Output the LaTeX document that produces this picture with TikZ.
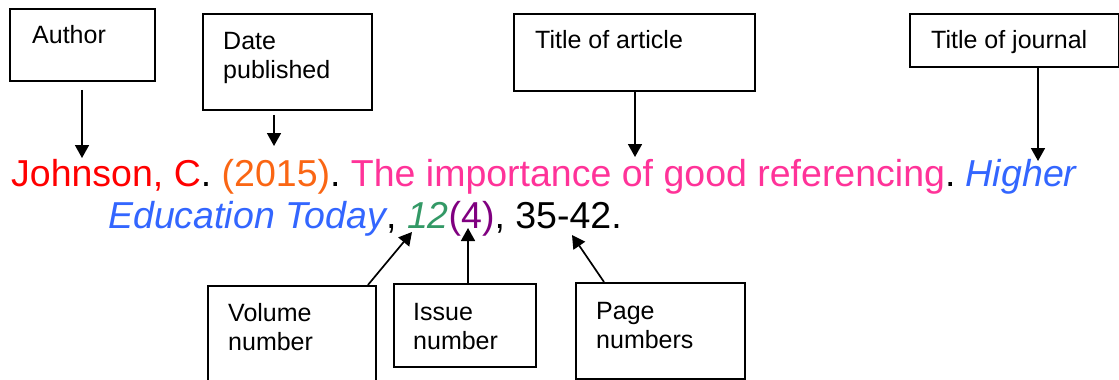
\documentclass[tikz,border=0pt]{standalone}
\usepackage{fontspec}
\setmainfont{Liberation Sans}
\usetikzlibrary{arrows.meta}
\definecolor{cred}{RGB}{255,0,0}
\definecolor{corange}{RGB}{250,102,20}
\definecolor{cpink}{RGB}{255,51,153}
\definecolor{cblue}{RGB}{51,102,255}
\definecolor{cgreen}{RGB}{51,153,102}
\definecolor{cpurple}{RGB}{128,0,128}
\frenchspacing
\tikzset{
  boxframe/.style={draw=black, line width=1.9pt, rectangle, inner sep=0pt, anchor=north west},
  boxlabel/.style={inner sep=0pt, anchor=north west, align=left, font=\fontsize{25}{29}\selectfont},
  maintext/.style={inner sep=0pt, anchor=base west, font=\fontsize{37.5}{42}\selectfont},
  arr/.style={line width=1.7pt, -{Triangle[length=13pt,width=14pt]}}
}
\begin{document}
\begin{tikzpicture}[x=1pt,y=1pt]
\clip (0,0) rectangle (1119,-380);
\fill[white] (0,0) rectangle (1119,-380);
% top boxes
\node[boxframe, minimum width=145pt, minimum height=72pt] (author) at (9,-8) {};
\node[boxlabel] (authorT) at (32,-25) {Author};
\node[boxframe, minimum width=169pt, minimum height=96pt] (date) at (202,-13) {};
\node[boxlabel] (dateT) at (223,-32) {Date\\published};
\node[boxframe, minimum width=241pt, minimum height=77pt] (article) at (513,-13) {};
\node[boxlabel] (articleT) at (535,-30) {Title of article};
\node[boxframe, minimum width=209pt, minimum height=53pt] (journal) at (909,-13) {};
\node[boxlabel] (journalT) at (931,-30) {Title of journal};
% bottom boxes
\node[boxframe, minimum width=168pt, minimum height=110pt] (volume) at (207,-285) {};
\node[boxlabel] (volumeT) at (228,-303) {Volume\\number};
\node[boxframe, minimum width=142pt, minimum height=83pt] (issue) at (393,-283) {};
\node[boxlabel] (issueT) at (413,-303) {Issue\\number};
\node[boxframe, minimum width=169pt, minimum height=96pt] (page) at (575,-282) {};
\node[boxlabel] (pageT) at (596,-302) {Page\\numbers};
% reference text
\node[maintext] (line1) at (11,-186) {\textcolor{cred}{Johnson, C}. \textcolor{corange}{(2015)}. \textcolor{cpink}{The importance of good referencing}. \textcolor{cblue}{\itshape Higher}};
\node[maintext] (line2) at (108,-228) {\textcolor{cblue}{\itshape Education Today}, \textcolor{cgreen}{\itshape 12}\textcolor{cpurple}{(4)}, 35-42.};
% arrow targets
\coordinate (authorTip) at (82,-158);
\coordinate (dateTip) at (274,-146);
\coordinate (articleTip) at (635,-157);
\coordinate (journalTip) at (1038,-161);
\coordinate (volumeTip) at (412,-232);
\coordinate (issueTip) at (468,-228);
\coordinate (pageTip) at (572,-235);
% arrows
\draw[arr, shorten <=8pt] (author.south -| authorTip) -- (authorTip);
\draw[arr, shorten <=4pt] (date.south -| dateTip) -- (dateTip);
\draw[arr] (article.south -| articleTip) -- (articleTip);
\draw[arr] (journal.south -| journalTip) -- (journalTip);
\draw[arr] ([xshift=-9pt]volume.north east) -- (volumeTip);
\draw[arr] (issue.north -| issueTip) -- (issueTip);
\draw[arr] ([xshift=29pt]page.north west) -- (pageTip);
\end{tikzpicture}
\end{document}
